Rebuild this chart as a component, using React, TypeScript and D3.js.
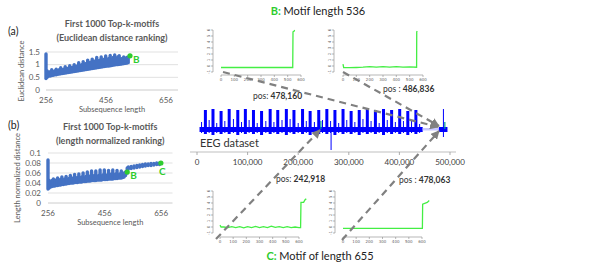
import React from "react";
import * as d3 from "d3";

const W = 614;
const H = 264;

// ---- panel (a): first 1000 top-k motifs, euclidean distance ranking
const euclidLength = [256, 260, 265, 270, 275, 280, 285, 290, 295, 300, 305, 310, 315, 320, 325, 330, 335, 340, 345, 350, 355, 360, 365, 370, 375, 380, 385, 390, 395, 400, 405, 410, 415, 420, 425, 430, 435, 440, 445, 450, 455, 460, 465, 470, 475, 480, 485, 490, 495, 500, 505, 510, 515, 520, 525, 530];
const euclidLow = [0.45, 0.5, 0.55, 0.55, 0.57, 0.58, 0.6, 0.6, 0.62, 0.63, 0.64, 0.65, 0.66, 0.67, 0.68, 0.69, 0.7, 0.71, 0.72, 0.73, 0.74, 0.75, 0.76, 0.77, 0.78, 0.79, 0.8, 0.81, 0.82, 0.83, 0.84, 0.85, 0.86, 0.87, 0.88, 0.89, 0.9, 0.91, 0.92, 0.93, 0.94, 0.95, 0.95, 0.96, 0.97, 0.98, 0.99, 1.0, 1.0, 1.01, 1.02, 1.03, 1.04, 1.05, 1.06, 1.08];
const euclidHigh = [1.42, 0.75, 0.7, 0.72, 0.8, 0.72, 0.75, 0.82, 0.76, 0.8, 0.88, 0.8, 0.82, 0.92, 0.84, 0.86, 0.96, 0.88, 0.9, 1.0, 0.92, 0.95, 1.08, 0.97, 1.0, 1.12, 1.02, 1.05, 1.18, 1.08, 1.1, 1.22, 1.12, 1.15, 1.28, 1.15, 1.18, 1.3, 1.18, 1.22, 1.34, 1.2, 1.25, 1.36, 1.22, 1.28, 1.38, 1.25, 1.3, 1.35, 1.22, 1.25, 1.3, 1.25, 1.28, 1.3];
const euclidTicks = [0, 0.5, 1, 1.5];
const euclidMarks = [{ name: "B", length: 536, value: 1.35 }];

// ---- panel (b): length normalized ranking
const normLength = [256, 260, 265, 270, 275, 280, 285, 290, 295, 300, 305, 310, 315, 320, 325, 330, 335, 340, 345, 350, 355, 360, 365, 370, 375, 380, 385, 390, 395, 400, 405, 410, 415, 420, 425, 430, 435, 440, 445, 450, 455, 460, 465, 470, 475, 480, 485, 490, 495, 500, 505, 510, 515, 520, 525, 530, 536, 540, 550, 560, 570, 580, 590, 600, 610, 620, 630, 640, 650];
const normLow = [0.028, 0.03, 0.032, 0.033, 0.034, 0.034, 0.035, 0.035, 0.036, 0.036, 0.037, 0.037, 0.038, 0.038, 0.039, 0.039, 0.04, 0.04, 0.04, 0.041, 0.041, 0.041, 0.042, 0.042, 0.042, 0.043, 0.043, 0.043, 0.044, 0.044, 0.044, 0.045, 0.045, 0.045, 0.045, 0.046, 0.046, 0.046, 0.046, 0.047, 0.047, 0.047, 0.047, 0.048, 0.048, 0.048, 0.048, 0.049, 0.049, 0.049, 0.05, 0.05, 0.05, 0.051, 0.052, 0.055, 0.06, 0.068, 0.069, 0.07, 0.071, 0.072, 0.073, 0.074, 0.075, 0.075, 0.076, 0.077, 0.077];
const normHigh = [0.086, 0.045, 0.042, 0.045, 0.048, 0.044, 0.046, 0.05, 0.045, 0.047, 0.052, 0.046, 0.048, 0.053, 0.047, 0.049, 0.055, 0.048, 0.05, 0.057, 0.049, 0.051, 0.058, 0.05, 0.052, 0.06, 0.05, 0.053, 0.062, 0.052, 0.054, 0.064, 0.053, 0.055, 0.064, 0.053, 0.055, 0.066, 0.054, 0.056, 0.066, 0.054, 0.056, 0.065, 0.055, 0.058, 0.066, 0.056, 0.058, 0.065, 0.056, 0.058, 0.064, 0.058, 0.06, 0.062, 0.07, 0.072, 0.073, 0.074, 0.075, 0.076, 0.077, 0.078, 0.078, 0.079, 0.079, 0.08, 0.08];
const normTicks = [0, 0.02, 0.04, 0.06, 0.08, 0.1];
const normMarks = [{ name: "B", length: 536, value: 0.062 }, { name: "C", length: 655, value: 0.08 }];

const lengthTicks = [256, 456, 656];

// ---- EEG dataset
const eegSpikePos = [16000, 31000, 47000, 63000, 80000, 95000, 111000, 127000, 144000, 159000, 176000, 191000, 208000, 223000, 240000, 256000, 272000, 288000, 304000, 320000, 336000, 352000, 368000, 384000, 400000, 416000, 432000, 487000];
const eegSpikeUp = [19, 20, 18, 20, 19, 20, 19, 18, 20, 19, 20, 19, 20, 18, 19, 20, 19, 20, 18, 19, 20, 19, 20, 19, 20, 18, 19, 20];
const eegSpikeDown = [-5, -6, -5, -5, -6, -5, -5, -6, -5, -5, -6, -5, -5, -6, -5, -5, -6, -5, -5, -6, -5, -5, -6, -5, -5, -6, -5, -8];
const eegMinorPos = [9000, 24000, 39000, 55000, 72000, 88000, 103000, 119000, 136000, 152000, 168000, 184000, 200000, 216000, 232000, 248000, 264000, 280000, 296000, 312000, 328000, 344000, 360000, 376000, 392000, 408000, 424000, 440000];
const eegMinorUp = [7, 9, 6, 8, 10, 7, 9, 6, 8, 7, 9, 10, 6, 8, 7, 9, 8, 6, 9, 7, 10, 8, 6, 9, 7, 8, 9, 5];
const eegDeepPos = 265000;
const eegDeepValue = -21;
const eegTicks = [0, 100000, 200000, 300000, 400000, 500000];

// ---- motif subsequences (x = sample offset, y = normalized value)
const motifB1x = [0, 100, 200, 300, 400, 500, 538, 540, 548, 552];
const motifB1y = [-0.25, -0.25, -0.25, -0.25, -0.25, -0.25, -0.25, 5.7, 5.8, 6.0];
const motifB2x = [0, 5, 50, 100, 150, 200, 250, 300, 350, 400, 450, 500, 552, 553, 558];
const motifB2y = [0.3, -0.25, -0.28, -0.25, -0.2, -0.12, -0.2, -0.1, -0.2, -0.12, -0.2, -0.15, -0.2, 5.7, 5.8];
const motifC1x = [0, 8, 30, 60, 90, 120, 150, 180, 210, 240, 270, 300, 330, 360, 390, 420, 450, 480, 510, 540, 570, 600, 612, 615, 635, 645, 655];
const motifC1y = [0.3, 0, 0, -0.1, 0.05, -0.1, 0.05, -0.15, 0.05, -0.1, 0.1, -0.1, 0.05, -0.1, 0.15, -0.05, 0.05, -0.1, 0.05, -0.1, 0, -0.1, -0.1, 4.1, 4.1, 4.5, 4.7];
const motifC2x = [0, 100, 200, 300, 400, 500, 603, 605, 640, 655];
const motifC2y = [-0.22, -0.22, -0.22, -0.22, -0.22, -0.22, -0.22, 3.8, 4.1, 4.4];
const motifXTicks = [0, 100, 200, 300, 400, 500, 600];
const motifYTicks = [-1, 0, 1, 2, 3, 4, 5, 6];

const BLUE = "#4472c4";
const GREEN = "#2ecc2e";
const LINE_GREEN = "#44ee44";
const GRAY_TXT = "#595959";
const FONT = "Lato, 'Open Sans', sans-serif";

function TopK(props: any) {
  const { x, y, lengths, low, high, ticks, marks, title, titleY, yTitle, yTitleX, tag, tagY, labelRight } = props;
  const [x0, x1] = x.range();
  const yBase = y(0);
  return (
    <g fontFamily={FONT}>
      <text x={8} y={tagY} fontSize={10.5} fill="#222">{tag}</text>
      {title.map((t: string, i: number) => (
        <text key={t} x={(x0 + x1) / 2} y={titleY + i * 13.5} fontSize={9} fontWeight="bold" fill={GRAY_TXT} textAnchor="middle">{t}</text>
      ))}
      {ticks.map((t: number) => (
        <g key={t}>
          <line x1={x0} x2={x1} y1={y(t)} y2={y(t)} stroke={t === 0 ? "#bfbfbf" : "#d9d9d9"} strokeWidth={0.8} />
          <text x={labelRight} y={y(t) + 2.8} fontSize={8} fill={GRAY_TXT} textAnchor="end">{d3.format("~g")(t)}</text>
        </g>
      ))}
      {lengthTicks.map((t) => (
        <text key={t} x={x(t)} y={yBase + 13} fontSize={8} fill={GRAY_TXT} textAnchor="middle">{t}</text>
      ))}
      <text x={(x0 + x1) / 2} y={yBase + 22} fontSize={7.5} fill={GRAY_TXT} textAnchor="middle">Subsequence length</text>
      <text transform={`translate(${yTitleX},${(y.range()[0] + y.range()[1]) / 2}) rotate(-90)`} fontSize={7.5} fill={GRAY_TXT} textAnchor="middle">{yTitle}</text>
      {lengths.map((l: number, i: number) => (
        <line key={l} x1={x(l)} x2={x(l)} y1={y(low[i])} y2={y(high[i])} stroke={BLUE} strokeWidth={3.4} strokeLinecap="round" />
      ))}
      {marks.map((m: any) => (
        <g key={m.name}>
          <circle cx={x(m.length)} cy={y(m.value)} r={2.6} fill={GREEN} />
          <text x={x(m.length) + (m.name === "C" ? -2 : 3)} y={y(m.value) + (m.name === "C" ? 12 : 7)} fontSize={10} fontWeight="bold" fill={GREEN}>{m.name}</text>
        </g>
      ))}
    </g>
  );
}

function MotifPlot(props: any) {
  const { xs, ys, px0, px600, pyTop, pyBot, axisX, axisY } = props;
  const x = d3.scaleLinear().domain([0, 600]).range([px0, px600]);
  const y = d3.scaleLinear().domain([-1, 6]).range([pyBot, pyTop]);
  const path = d3.line<number>().x((d) => x(d)).y((_, i) => y(ys[i]))(xs) || "";
  return (
    <g fontFamily="'DejaVu Sans', sans-serif" fill="#666">
      <line x1={x(0)} x2={x(600)} y1={axisY} y2={axisY} stroke="#888" strokeWidth={0.6} />
      {motifXTicks.map((t) => (
        <g key={t}>
          <line x1={x(t)} x2={x(t)} y1={axisY} y2={axisY + 2} stroke="#888" strokeWidth={0.6} />
          <text x={x(t)} y={axisY + 6} fontSize={4} textAnchor="middle">{t}</text>
        </g>
      ))}
      <line x1={axisX} x2={axisX} y1={y(-1)} y2={y(6)} stroke="#888" strokeWidth={0.6} />
      {motifYTicks.map((t) => (
        <g key={t}>
          <line x1={axisX - 2} x2={axisX} y1={y(t)} y2={y(t)} stroke="#888" strokeWidth={0.6} />
          <text transform={`translate(${axisX - 3.5},${y(t)}) rotate(-90)`} fontSize={4} textAnchor="middle">{t}</text>
        </g>
      ))}
      <path d={path} fill="none" stroke={LINE_GREEN} strokeWidth={1.3} />
    </g>
  );
}

function Eeg() {
  const x = d3.scaleLinear().domain([0, 500000]).range([197, 450]);
  const y = d3.scaleLinear().domain([-20, 20]).range([149, 109]);
  const axisY = 152;
  const last = eegSpikePos.length - 1;
  return (
    <g>
      <rect x={x(5000)} y={y(2)} width={x(446000) - x(5000)} height={y(-3) - y(2)} fill="#0000ff" />
      <rect x={x(446000)} y={y(1)} width={x(478000) - x(446000)} height={y(-1.5) - y(1)} fill="#c8c8ff" />
      <rect x={x(478000)} y={y(2)} width={x(495000) - x(478000)} height={y(-3) - y(2)} fill="#0000ff" />
      {eegMinorPos.map((p, i) => (
        <line key={p} x1={x(p)} x2={x(p)} y1={y(eegMinorUp[i])} y2={y(-4)} stroke="#0000ff" strokeWidth={1} />
      ))}
      {eegSpikePos.map((p, i) => (
        <rect key={p} x={x(p) - (i === last ? 0.5 : 1.2)} y={y(eegSpikeUp[i])} width={i === last ? 1 : 3} height={y(eegSpikeDown[i]) - y(eegSpikeUp[i])} fill="#0000ff" />
      ))}
      <line x1={x(eegDeepPos)} x2={x(eegDeepPos)} y1={y(0)} y2={y(eegDeepValue)} stroke="#0000ff" strokeWidth={1} />
      <line x1={x(242918) + 1} x2={x(242918) + 1} y1={y(8)} y2={y(0)} stroke="#00a090" strokeWidth={1.2} />
      <line x1={x(486836) + 1.5} x2={x(486836) + 1.5} y1={y(7)} y2={y(0)} stroke="#00a090" strokeWidth={1.2} />
      <text x={200} y={147} fontSize={11} fontFamily={FONT} fill="#333">EEG dataset</text>
      <line x1={190} x2={456} y1={axisY} y2={axisY} stroke="#bfbfbf" strokeWidth={1} />
      {eegTicks.map((t) => (
        <g key={t}>
          <line x1={x(t)} x2={x(t)} y1={axisY} y2={axisY + 3} stroke="#999" strokeWidth={0.8} />
          <text x={x(t)} y={axisY + 12.5} fontSize={8} fontFamily={FONT} fill="#404040" textAnchor="middle">{d3.format(",")(t)}</text>
        </g>
      ))}
    </g>
  );
}

function Pos(props: any) {
  const { x, y, label, value } = props;
  return (
    <text x={x} y={y} fontSize={8.5} fontFamily={FONT} fill="#333">
      {label}<tspan fontWeight="bold">{value}</tspan>
    </text>
  );
}

export default function App() {
  const xa = d3.scaleLinear().domain([256, 696]).range([46, 178]);
  const ya = d3.scaleLinear().domain([0, 1.5]).range([90, 52]);
  const xb = d3.scaleLinear().domain([256, 696]).range([48, 172.5]);
  const yb = d3.scaleLinear().domain([0, 0.1]).range([203, 153]);
  const dash = { stroke: "#808080", strokeWidth: 2.2, strokeDasharray: "7 5", markerEnd: "url(#arr)" };
  return (
    <svg width={W} height={H} style={{ position: "absolute", left: 0, top: 0, background: "#fff" }}>
      <defs>
        <marker id="arr" viewBox="0 0 10 10" refX="9" refY="5" markerWidth="4" markerHeight="4" orient="auto">
          <path d="M0,0 L10,5 L0,10 z" fill="#808080" />
        </marker>
      </defs>
      <rect width={W} height={H} fill="#fff" />
      <TopK x={xa} y={ya} lengths={euclidLength} low={euclidLow} high={euclidHigh} ticks={euclidTicks} marks={euclidMarks}
        title={["First 1000 Top-k-motifs", "(Euclidean distance ranking)"]} titleY={27} yTitle="Euclidean distance" yTitleX={24}
        tag="(a)" tagY={35} labelRight={40} />
      <TopK x={xb} y={yb} lengths={normLength} low={normLow} high={normHigh} ticks={normTicks} marks={normMarks}
        title={["First 1000 Top-k-motifs", "(length normalized ranking)"]} titleY={130} yTitle="Length normalized distance" yTitleX={20}
        tag="(b)" tagY={129} labelRight={41} />

      <text x={318} y={15} fontSize={11} fontFamily={FONT} fill="#222" textAnchor="middle">
        <tspan fill={GREEN} fontWeight="bold">B: </tspan>Motif length 536
      </text>
      <text x={320} y={260} fontSize={11} fontFamily={FONT} fill="#222" textAnchor="middle">
        <tspan fill={GREEN} fontWeight="bold">C: </tspan>Motif of length 655
      </text>

      <MotifPlot xs={motifB1x} ys={motifB1y} px0={221} px600={301} pyTop={30} pyBot={72} axisX={213} axisY={75} />
      <MotifPlot xs={motifB2x} ys={motifB2y} px0={343} px600={423} pyTop={30} pyBot={72} axisX={334} axisY={75} />
      <MotifPlot xs={motifC1x} ys={motifC1y} px0={220} px600={299} pyTop={191} pyBot={233} axisX={213} axisY={237} />
      <MotifPlot xs={motifC2x} ys={motifC2y} px0={343} px600={422} pyTop={191} pyBot={233} axisX={335} axisY={237} />

      <Eeg />

      <line x1={223} y1={72} x2={438} y2={127} {...dash} />
      <line x1={343} y1={72} x2={439} y2={126} {...dash} />
      <line x1={216} y1={239} x2={320} y2={130} {...dash} />
      <line x1={342} y1={240} x2={439} y2={131} {...dash} />

      <Pos x={253} y={99} label="pos: " value="478,160" />
      <Pos x={383} y={92} label="pos : " value="486,836" />
      <Pos x={276} y={182} label="pos: " value="242,918" />
      <Pos x={399} y={183} label="pos : " value="478,063" />
    </svg>
  );
}
